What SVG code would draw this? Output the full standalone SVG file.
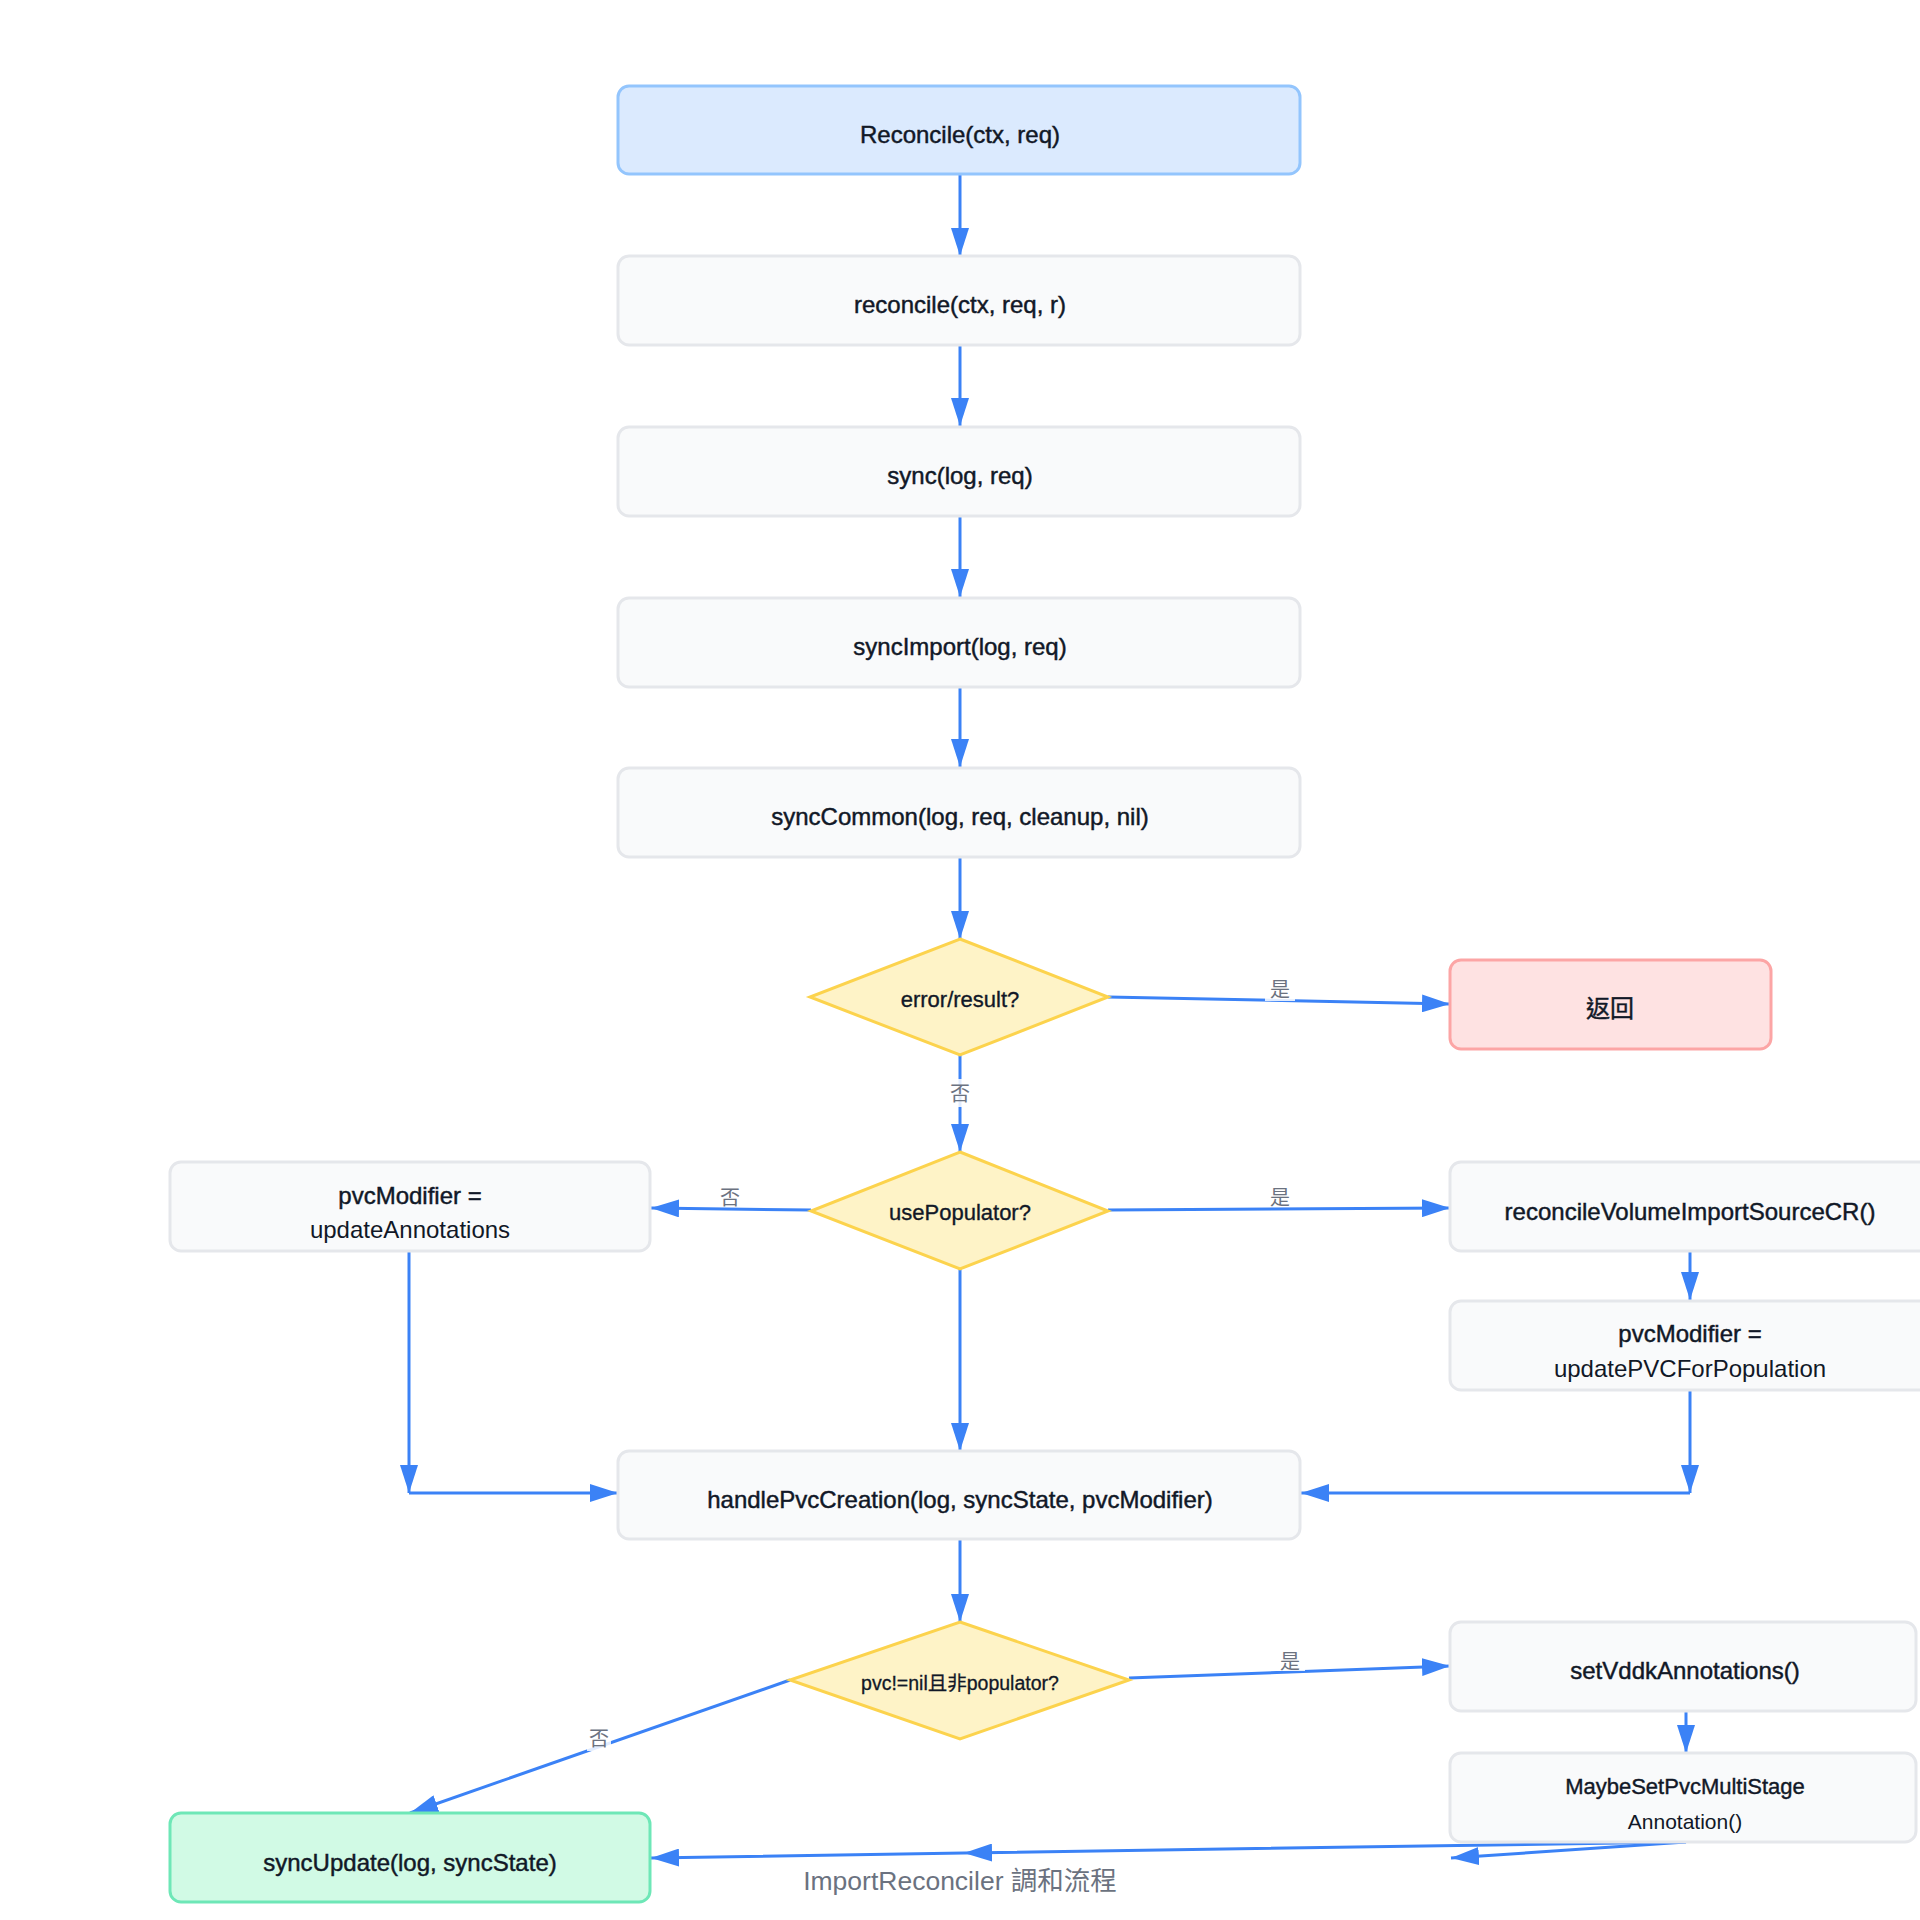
<svg xmlns="http://www.w3.org/2000/svg" width="1920" height="1920" viewBox="0 0 1920 1920">
<defs>
<marker id="arr" markerUnits="userSpaceOnUse" markerWidth="28" markerHeight="18" refX="28" refY="9" orient="auto">
<path d="M0,0 L28,9 L0,18 z" fill="#3b82f6"/>
</marker>
<style>
.box{fill:#f9fafb;stroke:#e5e7eb;stroke-width:3}
.start{fill:#dbeafe;stroke:#93c5fd;stroke-width:3}
.dec{fill:#fef3c7;stroke:#fcd34d;stroke-width:3}
.ret{fill:#fee2e2;stroke:#fca5a5;stroke-width:3}
.end{fill:#d1fae5;stroke:#6ee7b7;stroke-width:3}
.t{font-family:"Liberation Sans","Noto Sans CJK TC",Arial,sans-serif;fill:#111827;text-anchor:middle;dominant-baseline:central}
.m{font-size:24px;stroke:#111827;stroke-width:0.45}
.r{font-size:24px}
.d{font-size:22px;stroke:#111827;stroke-width:0.35}
.c{stroke:#3b82f6;stroke-width:3;fill:none}
.lbg{fill:#ffffff;opacity:0.85}
.lab{font-family:"Noto Sans CJK TC","Liberation Sans",sans-serif;font-size:20px;fill:#6b7280;text-anchor:middle;dominant-baseline:central}
.title{font-family:"Liberation Sans","Noto Sans CJK TC",sans-serif;font-size:26.5px;fill:#6b7280;text-anchor:middle;dominant-baseline:central}
</style>
</defs>
<rect width="1920" height="1920" fill="#ffffff"/>

<g id="connectors">
<line class="c" x1="960" y1="174" x2="960" y2="256" marker-end="url(#arr)"/>
<line class="c" x1="960" y1="345" x2="960" y2="426" marker-end="url(#arr)"/>
<line class="c" x1="960" y1="516" x2="960" y2="597" marker-end="url(#arr)"/>
<line class="c" x1="960" y1="687" x2="960" y2="767" marker-end="url(#arr)"/>
<line class="c" x1="960" y1="857" x2="960" y2="939" marker-end="url(#arr)"/>
<line class="c" x1="1108" y1="997" x2="1450" y2="1004" marker-end="url(#arr)"/>
<line class="c" x1="960" y1="1055" x2="960" y2="1152" marker-end="url(#arr)"/>
<line class="c" x1="1108" y1="1210" x2="1450" y2="1208" marker-end="url(#arr)"/>
<line class="c" x1="811" y1="1210" x2="651" y2="1208" marker-end="url(#arr)"/>
<line class="c" x1="960" y1="1269" x2="960" y2="1451" marker-end="url(#arr)"/>
<line class="c" x1="1690" y1="1251" x2="1690" y2="1300" marker-end="url(#arr)"/>
<line class="c" x1="409" y1="1251" x2="409" y2="1493" marker-end="url(#arr)"/>
<line class="c" x1="409" y1="1493" x2="618" y2="1493" marker-end="url(#arr)"/>
<line class="c" x1="1690" y1="1390" x2="1690" y2="1493" marker-end="url(#arr)"/>
<line class="c" x1="1690" y1="1493" x2="1301" y2="1493" marker-end="url(#arr)"/>
<line class="c" x1="960" y1="1539" x2="960" y2="1622" marker-end="url(#arr)"/>
<line class="c" x1="1129" y1="1678" x2="1450" y2="1666" marker-end="url(#arr)"/>
<line class="c" x1="790" y1="1680" x2="410" y2="1813" marker-end="url(#arr)"/>
<line class="c" x1="1686" y1="1711" x2="1686" y2="1753" marker-end="url(#arr)"/>
<polyline class="c" points="1686,1842 964,1853 651,1858" marker-mid="url(#arr)" marker-end="url(#arr)"/>
<line class="c" x1="1686" y1="1842" x2="1451" y2="1858" marker-end="url(#arr)"/>
<path d="M622,1849 L650,1858 L622,1867 z" fill="#3b82f6"/>
<rect class="lbg" x="1265" y="977" width="30" height="24"/>
<text class="lab" x="1280" y="988">是</text>
<rect class="lbg" x="949" y="1079" width="22" height="28"/>
<text class="lab" x="960" y="1092">否</text>
<rect class="lbg" x="1265" y="1185" width="30" height="22"/>
<text class="lab" x="1280" y="1196">是</text>
<rect class="lbg" x="715" y="1185" width="30" height="22"/>
<text class="lab" x="730" y="1196">否</text>
<rect class="lbg" x="1275" y="1649" width="30" height="22"/>
<text class="lab" x="1290" y="1660">是</text>
<rect class="lbg" x="587" y="1725" width="24" height="26"/>
<text class="lab" x="599" y="1737">否</text>
</g>

<g id="n-reconcile-top">
<rect class="start" x="618" y="86" width="682" height="88" rx="11"/>
<text class="t m" x="960" y="134">Reconcile(ctx, req)</text>
</g>
<g id="n-reconcile">
<rect class="box" x="618" y="256" width="682" height="89" rx="11"/>
<text class="t m" x="960" y="304">reconcile(ctx, req, r)</text>
</g>
<g id="n-sync">
<rect class="box" x="618" y="427" width="682" height="89" rx="11"/>
<text class="t m" x="960" y="475">sync(log, req)</text>
</g>
<g id="n-syncimport">
<rect class="box" x="618" y="598" width="682" height="89" rx="11"/>
<text class="t m" x="960" y="646">syncImport(log, req)</text>
</g>
<g id="n-synccommon">
<rect class="box" x="618" y="768" width="682" height="89" rx="11"/>
<text class="t m" x="960" y="816">syncCommon(log, req, cleanup, nil)</text>
</g>
<g id="n-err">
<polygon class="dec" points="960,939 1108,997 960,1055 810,997"/>
<text class="t d" x="960" y="999">error/result?</text>
</g>
<g id="n-return">
<rect class="ret" x="1450" y="960" width="321" height="89" rx="11"/>
<text class="t m" x="1610" y="1008">返回</text>
</g>
<g id="n-usepop">
<polygon class="dec" points="960,1152 1108,1211 960,1269 811,1211"/>
<text class="t d" x="960" y="1212">usePopulator?</text>
</g>
<g id="n-updann">
<rect class="box" x="170" y="1162" width="480" height="89" rx="11"/>
<text class="t m" x="410" y="1195">pvcModifier =</text>
<text class="t r" x="410" y="1229">updateAnnotations</text>
</g>
<g id="n-rvisc">
<rect class="box" x="1450" y="1162" width="485" height="89" rx="11"/>
<text class="t m" x="1690" y="1211">reconcileVolumeImportSourceCR()</text>
</g>
<g id="n-updpvc">
<rect class="box" x="1450" y="1301" width="485" height="89" rx="11"/>
<text class="t m" x="1690" y="1333">pvcModifier =</text>
<text class="t r" x="1690" y="1368">updatePVCForPopulation</text>
</g>
<g id="n-handle">
<rect class="box" x="618" y="1451" width="682" height="88" rx="11"/>
<text class="t m" x="960" y="1499">handlePvcCreation(log, syncState, pvcModifier)</text>
</g>
<g id="n-pvcnil">
<polygon class="dec" points="960,1622 1129,1680 960,1739 790,1680"/>
<text class="t" x="960" y="1683" style="font-size:19.5px;stroke:#111827;stroke-width:0.3">pvc!=nil且非populator?</text>
</g>
<g id="n-vddk">
<rect class="box" x="1450" y="1622" width="466" height="89" rx="11"/>
<text class="t m" x="1685" y="1670">setVddkAnnotations()</text>
</g>
<g id="n-multistage">
<rect class="box" x="1450" y="1753" width="466" height="89" rx="11"/>
<text class="t" x="1685" y="1786" style="font-size:22px;stroke:#111827;stroke-width:0.4">MaybeSetPvcMultiStage</text>
<text class="t" x="1685" y="1821" style="font-size:21px">Annotation()</text>
</g>
<g id="n-syncupdate">
<rect class="end" x="170" y="1813" width="480" height="89" rx="11"/>
<text class="t m" x="410" y="1862">syncUpdate(log, syncState)</text>
</g>
<text class="title" x="960" y="1881">ImportReconciler 調和流程</text>
</svg>
